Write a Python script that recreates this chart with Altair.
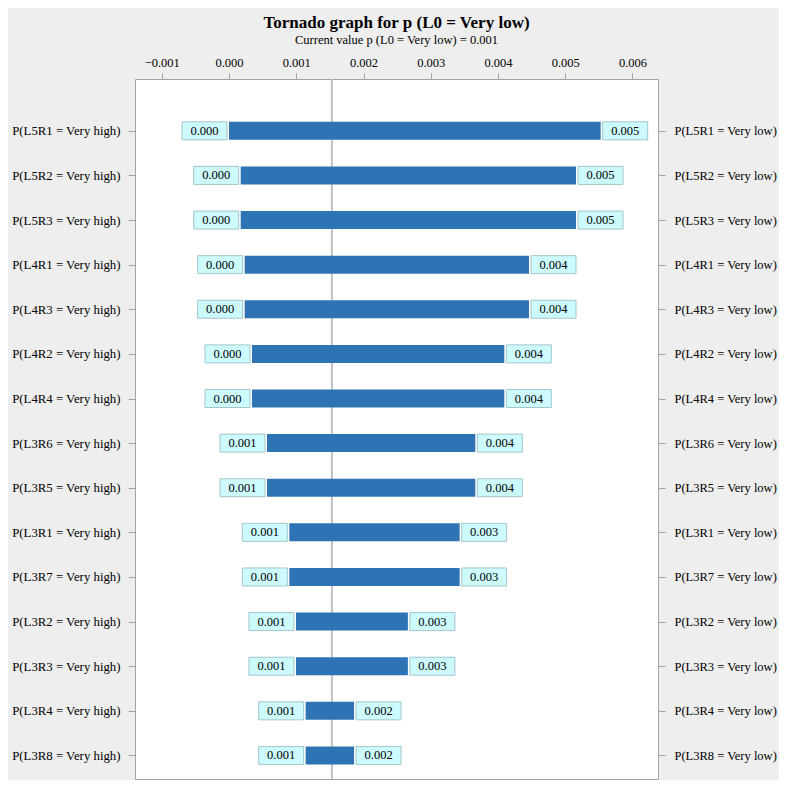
import json
import altair as alt
import pandas as pd

# ---------------- data ----------------
factors_high_side = [
    "P(L5R1 = Very high)", "P(L5R2 = Very high)", "P(L5R3 = Very high)",
    "P(L4R1 = Very high)", "P(L4R3 = Very high)", "P(L4R2 = Very high)",
    "P(L4R4 = Very high)", "P(L3R6 = Very high)", "P(L3R5 = Very high)",
    "P(L3R1 = Very high)", "P(L3R7 = Very high)", "P(L3R2 = Very high)",
    "P(L3R3 = Very high)", "P(L3R4 = Very high)", "P(L3R8 = Very high)",
]
factors_low_side = [
    "P(L5R1 = Very low)", "P(L5R2 = Very low)", "P(L5R3 = Very low)",
    "P(L4R1 = Very low)", "P(L4R3 = Very low)", "P(L4R2 = Very low)",
    "P(L4R4 = Very low)", "P(L3R6 = Very low)", "P(L3R5 = Very low)",
    "P(L3R1 = Very low)", "P(L3R7 = Very low)", "P(L3R2 = Very low)",
    "P(L3R3 = Very low)", "P(L3R4 = Very low)", "P(L3R8 = Very low)",
]
low_values = [0.00000, 0.000174, 0.000174, 0.000233, 0.000233, 0.000342, 0.000342,
              0.000565, 0.000565, 0.000897, 0.000897, 0.000996, 0.000996, 0.00114, 0.00114]
high_values = [0.005527, 0.00516, 0.00516, 0.004461, 0.004461, 0.004094, 0.004094,
               0.003663, 0.003663, 0.00343, 0.00343, 0.00266, 0.00266, 0.00186, 0.00186]
low_labels = ["0.000", "0.000", "0.000", "0.000", "0.000", "0.000", "0.000",
              "0.001", "0.001", "0.001", "0.001", "0.001", "0.001", "0.001", "0.001"]
high_labels = ["0.005", "0.005", "0.005", "0.004", "0.004", "0.004", "0.004",
               "0.004", "0.004", "0.003", "0.003", "0.003", "0.003", "0.002", "0.002"]
current_value = [0.00153]
x_ticks = [-0.001, 0.000, 0.001, 0.002, 0.003, 0.004, 0.005, 0.006]

title_text = "Tornado graph for p (L0 = Very low)"
subtitle_text = "Current value p (L0 = Very low) = 0.001"

df = pd.DataFrame({
    "row": list(range(len(low_values))),
    "low": low_values,
    "high": high_values,
    "low_label": low_labels,
    "high_label": high_labels,
})
ref_df = pd.DataFrame({"current": current_value})

# ---------------- styling ----------------
FONT = "Liberation Serif"
GRAY = "#a3a3a3"
BAR = "#2e74b5"
BOX_FILL = "#ccfafd"
BOX_STROKE = "#a4c6ca"

x_scale = alt.Scale(domain=[-0.0013978, 0.0063792], nice=False, zero=False, padding=0)
y_scale = alt.Scale(domain=[-1.161, 14.528], nice=False, zero=False, reverse=True, padding=0)

x_axis = alt.Axis(orient="top", values=x_ticks, format=".3f", title=None,
                  tickSize=6, tickColor=GRAY, domain=False, grid=False,
                  labelFont=FONT, labelFontSize=12.5, labelColor="black",
                  labelPadding=4, labelOverlap=False, labelFlush=False)

left_expr = json.dumps(factors_high_side) + "[datum.value]"
right_expr = json.dumps(factors_low_side) + "[datum.value]"

left_axis = alt.Axis(orient="left", values=list(range(15)), labelExpr=left_expr,
                     title=None, tickSize=7, tickColor=GRAY, domain=False, grid=False,
                     labelFont=FONT, labelFontSize=12.8, labelColor="black",
                     labelPadding=8, labelOverlap=False, labelFlush=False)
right_axis = alt.Axis(orient="right", values=list(range(15)), labelExpr=right_expr,
                      title=None, tickSize=7, tickColor=GRAY, domain=False, grid=False,
                      labelFont=FONT, labelFontSize=12.5, labelColor="black",
                      labelPadding=9, labelOverlap=False, labelFlush=False)

base = alt.Chart(df)

bars = base.mark_bar(size=18, color=BAR, orient="horizontal").encode(
    x=alt.X("low:Q", scale=x_scale, axis=x_axis),
    x2="high:Q",
    y=alt.Y("row:Q", scale=y_scale, axis=left_axis),
)

left_box = base.mark_bar(size=18, fill=BOX_FILL, stroke=BOX_STROKE, strokeWidth=1,
                         orient="horizontal", xOffset=-47, x2Offset=-2).encode(
    x=alt.X("low:Q", scale=x_scale, axis=x_axis),
    x2="low:Q",
    y=alt.Y("row:Q", scale=y_scale, axis=None),
)
right_box = base.mark_bar(size=18, fill=BOX_FILL, stroke=BOX_STROKE, strokeWidth=1,
                          orient="horizontal", xOffset=2, x2Offset=47).encode(
    x=alt.X("high:Q", scale=x_scale, axis=x_axis),
    x2="high:Q",
    y=alt.Y("row:Q", scale=y_scale, axis=None),
)

left_text = base.mark_text(font=FONT, fontSize=12.5, color="black", dx=-24.5,
                           align="center", baseline="middle").encode(
    x=alt.X("low:Q", scale=x_scale, axis=x_axis),
    y=alt.Y("row:Q", scale=y_scale, axis=None),
    text="low_label:N",
)
right_text = base.mark_text(font=FONT, fontSize=12.5, color="black", dx=24.5,
                            align="center", baseline="middle").encode(
    x=alt.X("high:Q", scale=x_scale, axis=x_axis),
    y=alt.Y("row:Q", scale=y_scale, axis=right_axis),
    text="high_label:N",
)

ref_line = alt.Chart(ref_df).mark_rule(color="#c0c0c0", strokeWidth=2).encode(
    x=alt.X("current:Q", scale=x_scale, axis=x_axis),
)

chart = alt.layer(ref_line, bars, left_box, right_box, left_text, right_text).resolve_axis(
    y="independent"
).properties(
    width=523,
    height=700,
    autosize=alt.AutoSizeParams(type="none"),
    padding={"left": 127, "top": 71, "right": 121, "bottom": 1},
    background="#eeeeee",
    title=alt.Title(text=title_text, subtitle=subtitle_text, anchor="middle",
                    font=FONT, fontSize=17, fontWeight="bold", color="black",
                    subtitleFont=FONT, subtitleFontSize=12.5, subtitleColor="black",
                    subtitlePadding=2, offset=9),
).configure_view(stroke=GRAY, strokeWidth=1, fill="white")

chart.save("out.html", embed_options={"renderer": "svg", "actions": False})
